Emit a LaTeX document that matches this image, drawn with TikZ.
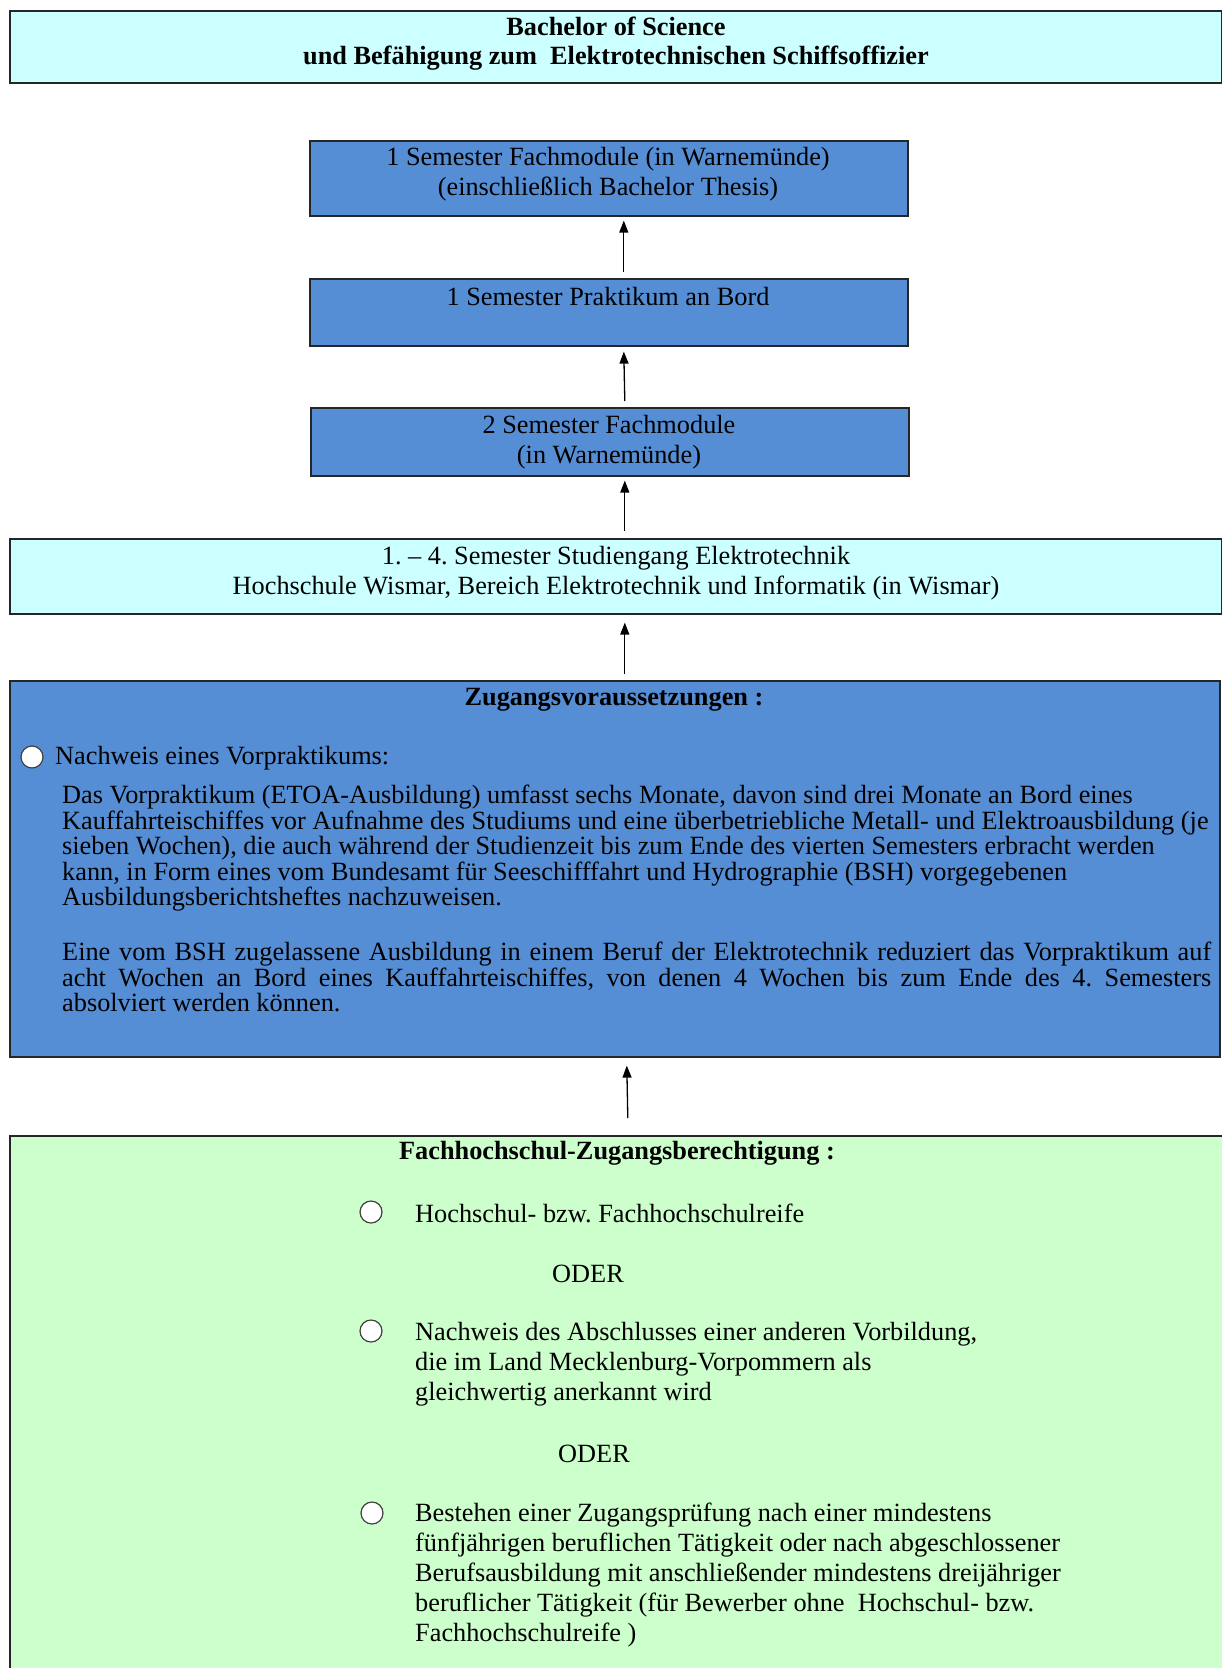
\documentclass[tikz,border=0pt]{standalone}
\usepackage{fontspec}
\setmainfont{Liberation Serif}
\usetikzlibrary{calc,arrows.meta}
\definecolor{paleCyan}{HTML}{CCFFFF}
\definecolor{midBlue}{HTML}{558ED5}
\definecolor{paleGreen}{HTML}{CCFFCC}
\definecolor{frame}{HTML}{262626}

\begin{document}
\frenchspacing
\begin{tikzpicture}[x=1pt, y=-1pt,
  box/.style={draw=frame, line width=1.6pt, inner sep=0pt, anchor=north west},
  arr/.style={-{Triangle[length=12pt,width=9pt]}, line width=1.3pt},
  txt/.style={font=\fontsize{26.3}{30}\selectfont, align=center, inner sep=0pt},
  btxt/.style={font=\fontsize{26.3}{29}\selectfont\bfseries, align=center, inner sep=0pt},
  body/.style={font=\fontsize{26.3}{25.5}\selectfont, inner sep=0pt, anchor=north west},
  bullet/.style={draw=black!75, fill=white, line width=1.2pt, circle, minimum size=22pt, inner sep=0pt}
]
\useasboundingbox (0,0) rectangle (1222,1668);

% frames
\node[box, fill=paleCyan,  minimum width=1212pt, minimum height=72pt]  (head)  at (9,10) {};
\node[box, fill=midBlue,   minimum width=598pt,  minimum height=75pt]  (fach1) at (309,140) {};
\node[box, fill=midBlue,   minimum width=598pt,  minimum height=67pt]  (prak)  at (309,278) {};
\node[box, fill=midBlue,   minimum width=598pt,  minimum height=68pt]  (fach2) at (310,407) {};
\node[box, fill=paleCyan,  minimum width=1212pt, minimum height=75pt]  (stud)  at (9,538) {};
\node[box, fill=midBlue,   minimum width=1210pt, minimum height=376pt] (zug)   at (9,680) {};
\node[box, fill=paleGreen, minimum width=1224pt, minimum height=560pt] (fhz)   at (9,1135) {};

% texts of the frames
\node[btxt] (headT) at (616,44) {Bachelor of Science\\und Befähigung zum\ \ Elektrotechnischen Schiffsoffizier};
\node[txt] (fach1T) at (608,174) {1 Semester Fachmodule (in Warnemünde)\\(einschließlich Bachelor Thesis)};
\node[txt] (prakT) at (608,296) {1 Semester Praktikum an Bord};
\node[txt] (fach2T) at (609,442) {2 Semester Fachmodule\\(in Warnemünde)};
\node[txt] (studT) at (616,573) {1. -- 4. Semester Studiengang Elektrotechnik\\Hochschule Wismar, Bereich Elektrotechnik und Informatik (in Wismar)};

% access requirements
\node[btxt] (zugT) at (614,700) {Zugangsvoraussetzungen :};
\node[bullet] (zb1) at (32,757) {};
\node[txt, anchor=west] (zb1T) at (55,758) {Nachweis eines Vorpraktikums:};
\node[body, align=left] (zp1) at (62,785) {%
Das Vorpraktikum (ETOA-Ausbildung) umfasst sechs Monate, davon sind drei Monate an Bord eines\\
Kauffahrteischiffes vor Aufnahme des Studiums und eine überbetriebliche Metall- und Elektroausbildung (je\\
sieben Wochen), die auch während der Studienzeit bis zum Ende des vierten Semesters erbracht werden\\
kann, in Form eines vom Bundesamt für Seeschifffahrt und Hydrographie (BSH) vorgegebenen\\
Ausbildungsberichtsheftes nachzuweisen.};
\node[body, text width=1149pt, align=justify] (zp2) at (62,942) {\hyphenpenalty=10000
Eine vom BSH zugelassene Ausbildung in einem Beruf der Elektrotechnik reduziert das Vorpraktikum auf\linebreak
acht Wochen an Bord eines Kauffahrteischiffes, von denen 4 Wochen bis zum Ende des 4. Semesters\linebreak
absolviert werden können.};

% university entrance qualification
\node[btxt] (fhzT) at (617,1153) {Fachhochschul-Zugangsberechtigung :};
\node[bullet] (fb1) at (371,1212) {};
\node[txt, anchor=west] (fb1T) at (415,1213) {Hochschul- bzw. Fachhochschulreife};
\node[txt] (oder1) at (588,1274) {ODER};
\node[bullet] (fb2) at (371,1331) {};
\node[txt, anchor=north west, align=left] (fb2T) at (415,1322) {Nachweis des Abschlusses einer anderen Vorbildung,\\die im Land Mecklenburg-Vorpommern als\\gleichwertig anerkannt wird};
\node[txt] (oder2) at (594,1454) {ODER};
\node[bullet] (fb3) at (372,1513) {};
\node[txt, anchor=north west, align=left] (fb3T) at (415,1503) {Bestehen einer Zugangsprüfung nach einer mindestens\\fünfjährigen beruflichen Tätigkeit oder nach abgeschlossener\\Berufsausbildung mit anschließender mindestens dreijähriger\\beruflicher Tätigkeit (für Bewerber ohne\ \ Hochschul- bzw.\\Fachhochschulreife )};

% upward flow
\draw[arr] ($(prak.north)+(15,-6)$) -- ($(fach1.south)+(15,4)$);
\draw[arr] ($(fach2.north)+(15,-6)$) -- ($(prak.south)+(15,5)$);
\draw[arr] ($(stud.north)+(9,-7)$) -- ($(fach2.south)+(15,4)$);
\draw[arr] ($(zug.north)+(10,-6)$) -- ($(stud.south)+(9,8)$);
\draw[arr] ($(fhz.north)+(6,-17)$) -- ($(zug.south)+(12,8)$);
\end{tikzpicture}
\end{document}
